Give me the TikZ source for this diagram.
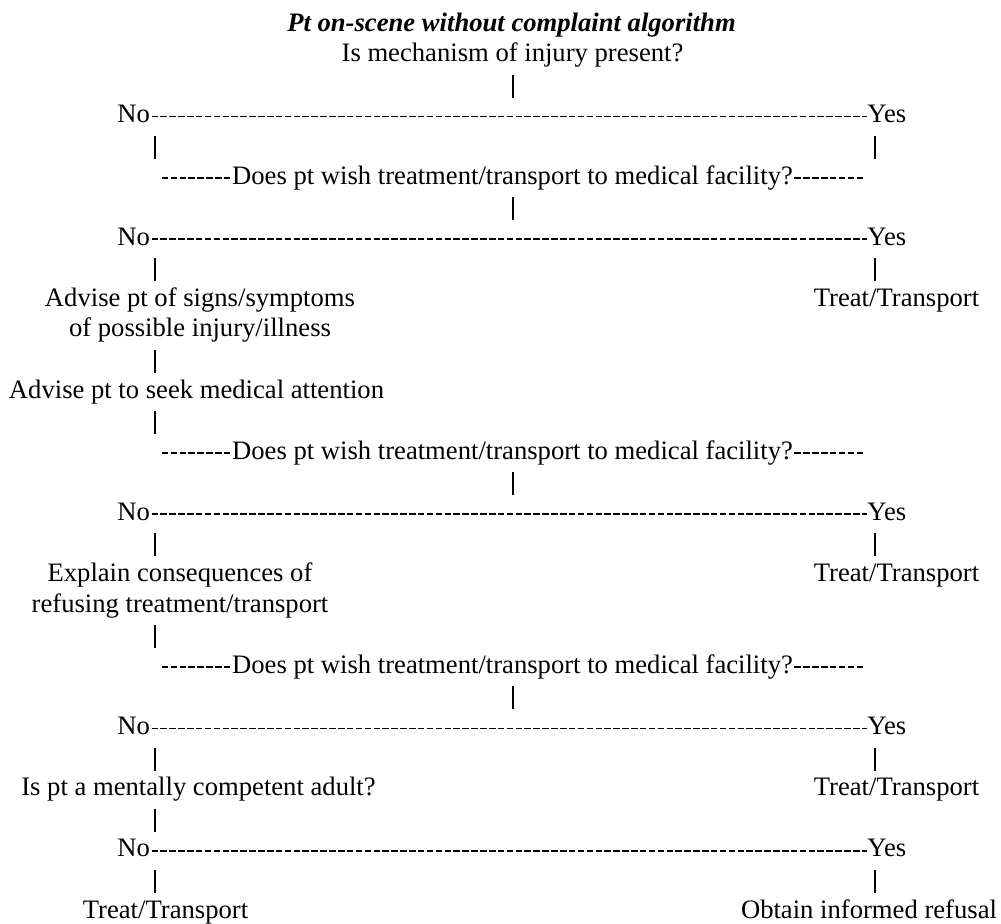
\documentclass[tikz,border=0pt]{standalone}
\usepackage{fontspec}
\setmainfont{Liberation Serif}
\tikzset{
  txt/.style={inner sep=0pt, text height=11.2pt, text depth=5.66pt, anchor=base},
  txt2/.style={txt, align=center, text height=24.98pt},
  dsh/.style={line width=0.75pt, dash pattern=on 2.95pt off 1.05pt, dash phase=3.5pt},
  bar/.style={line width=0.5pt}
}
\begin{document}
\begin{tikzpicture}[x=0.4505pt, y=0.4505pt, font=\fontsize{12pt}{13.78pt}\selectfont]
\useasboundingbox (0,0) rectangle (1001,-924);
\coordinate (L) at (155,0);
\coordinate (C) at (513,0);
\coordinate (R) at (875,0);
\node [txt] (T) at (511.5,-31) {\textbf{\textit{Pt on-scene without complaint algorithm}}};
\node [txt] (M) at (512.5,-61.6) {Is mechanism of injury present?};
\foreach \i/\y in {1/-122.8, 2/-245.1, 3/-520.4, 4/-734.6, 5/-856.9} {
  \node [txt, anchor=base west] (N\i) at (117,\y) {No};
  \node [txt, anchor=base west] (Y\i) at (867,\y) {Yes};
}
\foreach \i/\y in {1/-184, 2/-459.3, 3/-673.4}
  \node [txt] (Q\i) at (512.5,\y) {Does pt wish treatment/transport to medical facility?};
\foreach \i/\y in {1/-306.3, 2/-581.6, 3/-795.8}
  \node [txt] (R\i) at (896.5,\y) {Treat/Transport};
\node [txt2] (A1) at (200,-336.9) {Advise pt of signs/symptoms\\of possible injury/illness};
\node [txt] (A2) at (196.5,-398.1) {Advise pt to seek medical attention};
\node [txt2] (E) at (180,-612.2) {Explain consequences of\\refusing treatment/transport};
\node [txt] (MC) at (198.5,-795.8) {Is pt a mentally competent adult?};
\node [txt] (TL) at (165.5,-918.1) {Treat/Transport};
\node [txt] (O) at (869,-918.1) {Obtain informed refusal};
\foreach \i in {1,...,5}
  \draw [dsh] (N\i.east) -- (Y\i.west);
\foreach \q in {Q1,Q2,Q3} {
  \draw [dsh] ([xshift=-32pt]\q.west) -- (\q.west);
  \draw [dsh] (\q.east) -- ([xshift=32pt]\q.east);
}
\foreach \c/\a/\b in {C/M/N1, L/N1/Q1, R/Y1/Q1, C/Q1/N2, L/N2/A1, R/Y2/R1, L/A1/A2, L/A2/Q2,
  C/Q2/N3, L/N3/E, R/Y3/R2, L/E/Q3, C/Q3/N4, L/N4/MC, R/Y4/R3, L/MC/N5, L/N5/TL, R/Y5/O}
  \draw [bar] (\c |- \a.south) -- (\c |- \b.north);
\end{tikzpicture}
\end{document}
